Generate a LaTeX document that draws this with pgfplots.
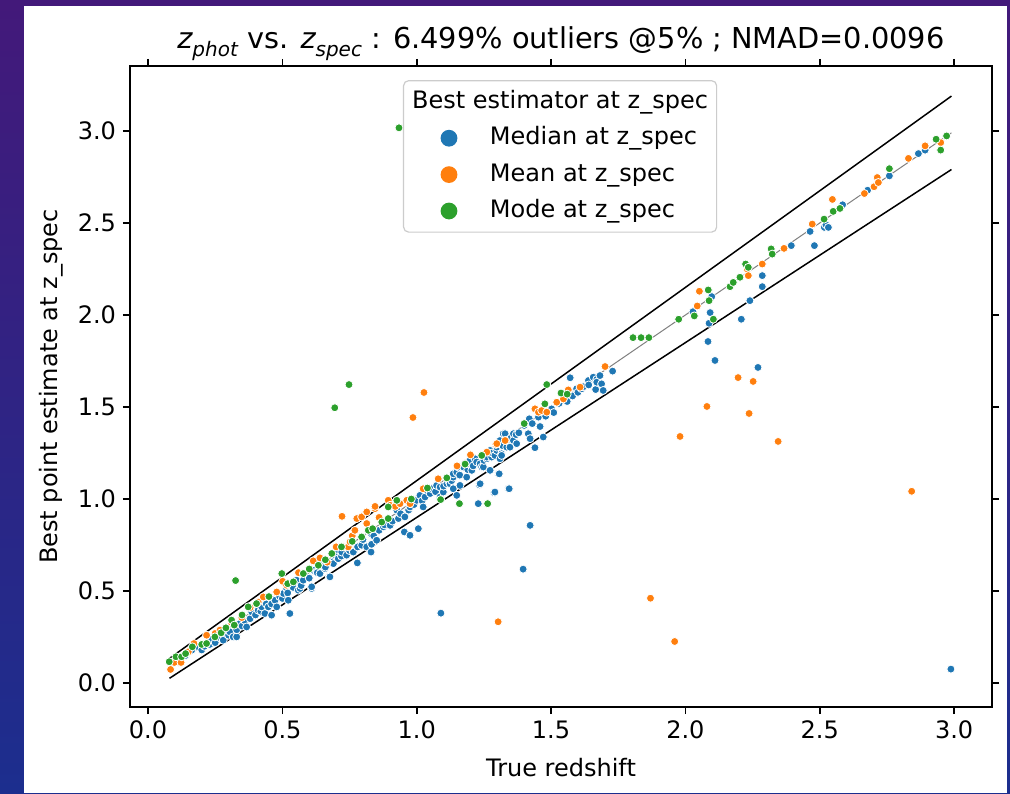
\documentclass[border=0pt]{standalone}
\usepackage{pgfplots}
\pgfplotsset{compat=1.18}
\usepackage{pgfplotstable}
\usepackage{fontspec}
\setmainfont{DejaVu Sans}
\definecolor{tblue}{HTML}{1F77B4}
\definecolor{torange}{HTML}{FF7F0E}
\definecolor{tgreen}{HTML}{2CA02C}
\definecolor{bgtop}{HTML}{43197A}
\definecolor{bgbot}{HTML}{1C2E8E}

\pgfplotstableread{
x y
0.12 0.11
0.14 0.15
0.163 0.179
0.187 0.197
0.20 0.18
0.21 0.20
0.23 0.21
0.237 0.242
0.25 0.22
0.268 0.260
0.27 0.245
0.280 0.233
0.29 0.27
0.30 0.26
0.305 0.278
0.317 0.251
0.330 0.251
0.33 0.29
0.342 0.324
0.35 0.31
0.36 0.34
0.367 0.305
0.38 0.35
0.386 0.387
0.40 0.37
0.410 0.396
0.42 0.39
0.423 0.414
0.435 0.378
0.44 0.43
0.448 0.414
0.46 0.43
0.460 0.369
0.473 0.450
0.479 0.414
0.49 0.47
0.50 0.46
0.504 0.487
0.516 0.514
0.52 0.49
0.522 0.450
0.528 0.378
0.54 0.52
0.553 0.559
0.559 0.505
0.566 0.514
0.57 0.53
0.578 0.559
0.60 0.57
0.609 0.514
0.609 0.523
0.615 0.613
0.628 0.604
0.63 0.60
0.640 0.595
0.646 0.658
0.659 0.631
0.659 0.622
0.66 0.63
0.675 0.577
0.677 0.577
0.69 0.66
0.690 0.649
0.702 0.712
0.702 0.685
0.708 0.676
0.72 0.69
0.721 0.712
0.739 0.695
0.75 0.72
0.764 0.712
0.78 0.74
0.779 0.653
0.795 0.749
0.80 0.78
0.814 0.740
0.830 0.712
0.832 0.754
0.832 0.808
0.84 0.80
0.851 0.776
0.86 0.83
0.876 0.849
0.88 0.86
0.901 0.857
0.91 0.88
0.926 0.939
0.932 0.894
0.94 0.92
0.954 0.821
0.956 0.903
0.97 0.94
0.975 0.957
0.975 0.803
0.99 0.97
1.000 0.993
1.006 0.839
1.012 1.020
1.02 0.99
1.024 0.957
1.031 1.011
1.037 1.047
1.05 1.03
1.056 1.056
1.07 1.04
1.074 1.074
1.087 1.065
1.087 1.011
1.099 1.038
1.10 1.07
1.112 1.083
1.118 1.101
1.124 1.083
1.13 1.10
1.136 1.119
1.136 1.056
1.136 1.137
1.149 1.146
1.149 1.020
1.155 1.174
1.16 1.13
1.161 1.074
1.174 1.174
1.180 1.192
1.186 1.119
1.19 1.16
1.192 1.192
1.198 1.210
1.205 1.156
1.21 1.18
1.217 1.219
1.223 1.201
1.229 0.975
1.233 1.077
1.236 1.083
1.236 1.192
1.242 1.174
1.248 1.174
1.25 1.21
1.261 1.219
1.261 1.228
1.273 1.264
1.273 1.156
1.279 1.228
1.28 1.25
1.288 1.034
1.291 1.038
1.291 1.237
1.298 1.264
1.298 1.282
1.304 1.137
1.307 1.137
1.310 1.219
1.310 1.318
1.316 1.246
1.316 1.237
1.32 1.29
1.322 1.355
1.329 1.355
1.335 1.282
1.335 1.318
1.341 1.056
1.344 1.056
1.347 1.282
1.35 1.33
1.360 1.355
1.360 1.318
1.37 1.35
1.372 1.301
1.38 1.36
1.40 1.40
1.415 1.355
1.419 1.436
1.422 1.328
1.422 0.857
1.43 1.41
1.440 1.279
1.453 1.445
1.459 1.394
1.471 1.337
1.48 1.45
1.502 1.490
1.51 1.47
1.53 1.52
1.55 1.54
1.56 1.53
1.571 1.659
1.58 1.56
1.595 1.599
1.60 1.58
1.614 1.599
1.62 1.61
1.639 1.644
1.64 1.62
1.657 1.662
1.666 1.595
1.67 1.65
1.670 1.635
1.682 1.671
1.688 1.626
1.694 1.590
1.729 1.695
1.090 0.380
1.396 0.619
2.028 2.018
2.084 1.856
2.088 1.955
2.092 2.013
2.098 2.100
2.110 1.753
2.208 1.977
2.240 2.078
2.270 1.715
2.286 2.154
2.286 2.214
2.394 2.377
2.464 2.454
2.480 2.377
2.517 2.476
2.523 2.490
2.532 2.476
2.585 2.599
2.678 2.678
2.759 2.756
2.867 2.877
2.892 2.896
2.988 0.076
}\medianT

\pgfplotstableread{
x y
0.084 0.074
0.098 0.112
0.123 0.112
0.15 0.17
0.171 0.215
0.218 0.260
0.25 0.27
0.268 0.288
0.31 0.33
0.349 0.356
0.380 0.410
0.41 0.44
0.429 0.468
0.479 0.495
0.501 0.553
0.516 0.532
0.56 0.60
0.615 0.664
0.64 0.68
0.667 0.657
0.70 0.74
0.722 0.906
0.727 0.740
0.745 0.740
0.752 0.767
0.76 0.80
0.770 0.830
0.777 0.894
0.795 0.903
0.814 0.930
0.814 0.867
0.845 0.948
0.845 0.960
0.86 0.90
0.894 0.993
0.901 0.966
0.92 0.96
0.938 0.975
0.963 0.993
0.975 0.975
0.986 1.443
1.024 1.056
1.027 1.579
1.08 1.11
1.15 1.18
1.20 1.24
1.261 1.255
1.295 1.297
1.298 1.301
1.303 0.333
1.329 1.318
1.440 1.490
1.453 1.472
1.465 1.481
1.484 1.472
1.521 1.526
1.546 1.544
1.564 1.593
1.608 1.608
1.701 1.720
1.870 0.461
1.960 0.226
1.980 1.340
2.044 2.049
2.052 2.129
2.080 1.503
2.196 1.660
2.230 2.250
2.234 2.214
2.237 1.465
2.252 1.639
2.286 2.277
2.345 1.313
2.367 2.362
2.472 2.494
2.547 2.628
2.666 2.660
2.702 2.697
2.714 2.747
2.718 2.720
2.830 2.851
2.842 1.042
2.892 2.919
2.950 2.937
}\meanT

\pgfplotstableread{
x y
0.079 0.116
0.104 0.143
0.125 0.143
0.14 0.16
0.165 0.197
0.20 0.21
0.218 0.215
0.249 0.251
0.272 0.273
0.29 0.30
0.311 0.342
0.321 0.315
0.326 0.557
0.35 0.37
0.373 0.414
0.404 0.432
0.45 0.47
0.498 0.595
0.52 0.54
0.541 0.550
0.578 0.595
0.60 0.62
0.634 0.640
0.66 0.67
0.684 0.704
0.695 1.496
0.72 0.74
0.748 1.622
0.76 0.77
0.795 0.794
0.82 0.83
0.836 0.839
0.870 0.875
0.894 0.894
0.894 0.957
0.926 0.993
0.934 3.017
0.98 1.00
1.04 1.06
1.089 0.997
1.112 1.115
1.159 0.975
1.18 1.19
1.242 1.237
1.264 0.975
1.40 1.41
1.477 1.517
1.484 1.622
1.537 1.576
1.56 1.57
1.805 1.877
1.835 1.877
1.864 1.877
1.975 1.977
2.033 1.995
2.085 2.136
2.088 2.078
2.104 1.977
2.166 2.154
2.178 2.177
2.203 2.205
2.224 2.277
2.234 2.259
2.319 2.359
2.323 2.331
2.516 2.521
2.550 2.563
2.575 2.579
2.759 2.795
2.933 2.955
2.950 2.896
2.972 2.973
}\modeT

\begin{document}
\begin{tikzpicture}[x=1pt,y=1pt]
\useasboundingbox (0,0) rectangle (505,396.5);
\shade[top color=bgtop,bottom color=bgbot] (0,0) rectangle (505,396.5);
\fill[white] (12,0) rectangle (503.5,393.5);
\begin{axis}[
  at={(65pt,43pt)}, anchor=south west,
  scale only axis, width=431pt, height=320.5pt,
  xmin=-0.067, xmax=3.141, ymin=-0.130, ymax=3.353,
  xtick={0,0.5,1,1.5,2,2.5,3},
  ytick={0,0.5,1,1.5,2,2.5,3},
  tick align=outside, major tick length=3.5pt,
  every tick/.style={black, line width=0.8pt},
  axis line style={line width=0.8pt},
  xticklabel style={/pgf/number format/.cd, fixed, fixed zerofill, precision=1, assume math mode=true},
  yticklabel style={/pgf/number format/.cd, fixed, fixed zerofill, precision=1, assume math mode=true},
  ticklabel style={font=\fontsize{12}{14}\selectfont},
  title={{\itshape z}\raisebox{-0.25em}{\fontsize{10}{12}\selectfont\itshape phot} vs. {\itshape z}\raisebox{-0.25em}{\fontsize{10}{12}\selectfont\itshape spec} : 6.499\% outliers @5\% ; NMAD=0.0096},
  title style={at={([yshift=2.5pt]axis description cs:0.5,1)}, anchor=base, font=\fontsize{14.4}{17}\selectfont},
  xlabel={True redshift},
  xlabel style={at={([yshift=-34.5pt]axis description cs:0.5,0)}, anchor=base, font=\fontsize{12}{14}\selectfont},
  ylabel={Best point estimate at z\_spec},
  ylabel style={at={([xshift=-36pt]axis description cs:0,0.5)}, anchor=base, font=\fontsize{12}{14}\selectfont},
  legend style={at={(0.3167,0.978)}, anchor=north west, draw=black!20, line width=0.6pt,
    rounded corners=2.5pt, fill=white, inner xsep=4.3pt, inner ysep=4.8pt,
    column sep=8.9pt, row sep=6.7pt, font=\fontsize{12}{14}\selectfont,
    nodes={inner sep=0pt, text height=9pt, text depth=2.5pt}},
  legend cell align=left,
]
\addlegendimage{empty legend}
\addlegendentry{\hspace*{-38.9pt}Best estimator at z\_spec}
\addplot[only marks, mark=*, mark size=2pt, mark options={fill=tblue, draw=white, line width=0.4pt},
  legend image code/.code={\path[draw=none,fill=none] (0pt,-1pt) rectangle (30pt,1pt); \fill[tblue,draw=none] (18.4pt,0pt) circle (4.2pt);}]
  table {\medianT};
\addlegendentry{Median at z\_spec}
\addplot[only marks, mark=*, mark size=2pt, mark options={fill=torange, draw=white, line width=0.4pt},
  legend image code/.code={\path[draw=none,fill=none] (0pt,-1pt) rectangle (30pt,1pt); \fill[torange,draw=none] (18.4pt,0pt) circle (4.2pt);}]
  table {\meanT};
\addlegendentry{Mean at z\_spec}
\addplot[only marks, mark=*, mark size=2pt, mark options={fill=tgreen, draw=white, line width=0.4pt},
  legend image code/.code={\path[draw=none,fill=none] (0pt,-1pt) rectangle (30pt,1pt); \fill[tgreen,draw=none] (18.4pt,0pt) circle (4.2pt);}]
  table {\modeT};
\addlegendentry{Mode at z\_spec}
\addplot[gray, line width=0.5pt, forget plot] coordinates {(0.08,0.08) (2.99,2.99)};
\addplot[black, line width=0.75pt, forget plot] coordinates {(0.08,0.134) (2.99,3.1895)};
\addplot[black, line width=0.75pt, forget plot] coordinates {(0.08,0.026) (2.99,2.7905)};
\end{axis}
\end{tikzpicture}
\end{document}
